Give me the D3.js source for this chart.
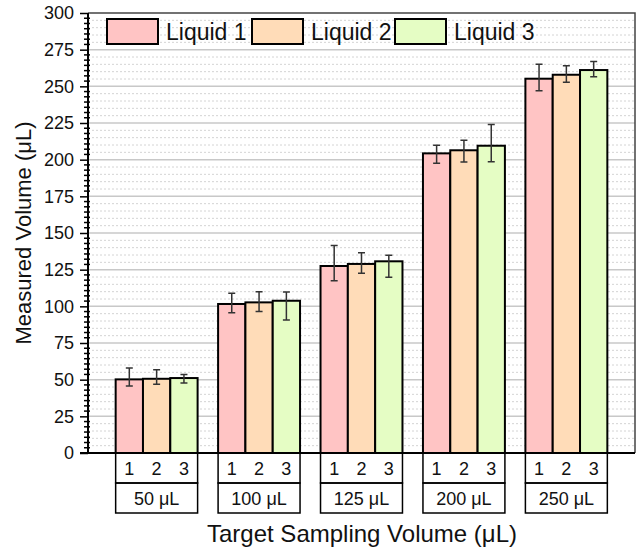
<!DOCTYPE html>
<html>
<head>
<meta charset="utf-8">
<style type="text/css">
    body { margin: 0; background: #fff; }
    text { font-family: "Liberation Sans", Arial, sans-serif; fill: #111; }
</style>
</head>
<body>
<svg width="640" height="549"></svg>
<script type="text/javascript" src="https://cdn.jsdelivr.net/npm/d3@7"></script>
<script type="text/javascript">

    // data
    let targets = [`50 μL`, `100 μL`, `125 μL`, `200 μL`, `250 μL`];
    let liquids = [`Liquid 1`, `Liquid 2`, `Liquid 3`];
    let liquid1 = [50.2, 101.6, 127.5, 204.3, 255.2];
    let liquid2 = [50.6, 102.7, 128.9, 206.4, 257.9];
    let liquid3 = [51.1, 103.8, 130.7, 209.5, 261.1];
    // error bar ends (top / bottom)
    let liquid1Hi = [58.0, 108.9, 141.5, 209.8, 265.0];
    let liquid1Lo = [45.7, 95.7, 117.5, 197.5, 247.0];
    let liquid2Hi = [56.8, 110.0, 136.6, 213.2, 264.0];
    let liquid2Lo = [46.8, 96.4, 122.5, 198.4, 252.7];
    let liquid3Hi = [53.6, 109.8, 134.8, 223.9, 267.0];
    let liquid3Lo = [47.7, 90.7, 119.8, 198.6, 256.6];
    let yTicks = [0, 25, 50, 75, 100, 125, 150, 175, 200, 225, 250, 275, 300];
    let colors = [`#ffc4c4`, `#ffdcb8`, `#e5fdc4`];

    let values = [liquid1, liquid2, liquid3];
    let his = [liquid1Hi, liquid2Hi, liquid3Hi];
    let los = [liquid1Lo, liquid2Lo, liquid3Lo];

    var svg = d3.select("svg"),
        pLeft = 88, pRight = 635, pTop = 13, pBottom = 453;

    var y = d3.scaleLinear().domain([0, 300]).range([pBottom, pTop]);
    var x = d3.scaleBand().domain(targets).range([pLeft, pRight])
        .paddingInner(0.2).paddingOuter(0.27);
    var xs = d3.scaleBand().domain(d3.range(3)).range([0, x.bandwidth()]);

    // grid: dotted minor every 5, solid major every 25
    var grid = svg.append("g");
    grid.selectAll("line.minor")
        .data(d3.range(5, 300, 5).filter(v => v % 25 != 0))
        .enter().append("line")
        .attr("x1", pLeft).attr("x2", pRight)
        .attr("y1", d => y(d)).attr("y2", d => y(d))
        .attr("stroke", "#d4d4d4").attr("stroke-width", 1)
        .attr("stroke-dasharray", "2,2");
    grid.selectAll("line.major")
        .data(yTicks.slice(1, -1))
        .enter().append("line")
        .attr("x1", pLeft).attr("x2", pRight)
        .attr("y1", d => y(d)).attr("y2", d => y(d))
        .attr("stroke", "#c8c8c8").attr("stroke-width", 1.5);

    // frame top/right
    svg.append("path")
        .attr("d", `M${pLeft},${pTop}H${pRight}V${pBottom}`)
        .attr("fill", "none").attr("stroke", "#444").attr("stroke-width", 1.5);

    // bars
    for (let s = 0; s < 3; s++) {
        svg.append("g").selectAll("rect")
            .data(targets)
            .enter().append("rect")
            .attr("x", d => x(d) + xs(s))
            .attr("width", xs.bandwidth())
            .attr("y", (d, i) => y(values[s][i]))
            .attr("height", (d, i) => pBottom - y(values[s][i]))
            .attr("fill", colors[s])
            .attr("stroke", "#000")
            .attr("stroke-width", 2);
    }

    // error bars
    for (let s = 0; s < 3; s++) {
        svg.append("g").attr("stroke", "#333").attr("stroke-width", 1.5).attr("fill", "none")
            .selectAll("path")
            .data(targets)
            .enter().append("path")
            .attr("d", function(d, i) {
                var cx = x(d) + xs(s) + xs.bandwidth() / 2;
                var y1 = y(his[s][i]), y2 = y(los[s][i]);
                return `M${cx - 3.5},${y1}H${cx + 3.5}M${cx},${y1}V${y2}M${cx - 3.5},${y2}H${cx + 3.5}`;
            });
    }

    // y axis
    var yAxis = svg.append("g").attr("transform", `translate(${pLeft},0)`)
        .call(d3.axisLeft(y).tickValues(yTicks).tickSize(8).tickPadding(6));
    yAxis.select(".domain").remove();
    yAxis.selectAll(".tick line").attr("stroke", "#000").attr("stroke-width", 1.5);
    yAxis.selectAll(".tick text").style("font-size", "18px").attr("fill", "#111")
        .attr("font-family", null);
    // minor ticks
    yAxis.selectAll("line.mt")
        .data(d3.range(0, 300, 25 / 7).filter((v, i) => i % 7 != 0))
        .enter().append("line")
        .attr("x1", -4).attr("x2", 2)
        .attr("y1", d => y(d)).attr("y2", d => y(d))
        .attr("stroke", "#000").attr("stroke-width", 1.5);
    svg.append("line").attr("x1", pLeft).attr("x2", pLeft).attr("y1", pTop).attr("y2", pBottom + 0.75)
        .attr("stroke", "#000").attr("stroke-width", 2);
    svg.append("line").attr("x1", pLeft - 8).attr("x2", pRight).attr("y1", pBottom).attr("y2", pBottom)
        .attr("stroke", "#000").attr("stroke-width", 2);

    // category boxes under the axis
    var cats = svg.append("g");
    cats.selectAll("rect.r1").data(targets).enter().append("rect")
        .attr("x", d => x(d)).attr("y", pBottom).attr("width", x.bandwidth()).attr("height", 30)
        .attr("fill", "none").attr("stroke", "#000").attr("stroke-width", 1.5);
    cats.selectAll("rect.r2").data(targets).enter().append("rect")
        .attr("x", d => x(d)).attr("y", pBottom + 30).attr("width", x.bandwidth()).attr("height", 30)
        .attr("fill", "none").attr("stroke", "#000").attr("stroke-width", 1.5);
    targets.forEach(function(t) {
        for (let s = 0; s < 3; s++) {
            cats.append("text")
                .attr("x", x(t) + xs(s) + xs.bandwidth() / 2).attr("y", pBottom + 22)
                .attr("text-anchor", "middle").style("font-size", "18px")
                .text(s + 1);
        }
        cats.append("text")
            .attr("x", x(t) + x.bandwidth() / 2).attr("y", pBottom + 52)
            .attr("text-anchor", "middle").style("font-size", "18px")
            .text(t);
    });

    // axis titles
    svg.append("text")
        .attr("transform", `translate(31,${(pTop + pBottom) / 2}) rotate(-90)`)
        .attr("text-anchor", "middle").style("font-size", "22px")
        .text("Measured Volume (μL)");
    svg.append("text")
        .attr("x", 362).attr("y", 542)
        .attr("text-anchor", "middle").style("font-size", "24px")
        .text("Target Sampling Volume (μL)");

    // legend
    var legX = [107, 252, 395];
    var leg = svg.append("g");
    liquids.forEach(function(name, i) {
        leg.append("rect")
            .attr("x", legX[i]).attr("y", 19).attr("width", 51).attr("height", 25)
            .attr("fill", colors[i]).attr("stroke", "#000").attr("stroke-width", 2);
        leg.append("text")
            .attr("x", legX[i] + 59).attr("y", 40)
            .style("font-size", "23px")
            .text(name);
    });

</script>
</body>
</html>
